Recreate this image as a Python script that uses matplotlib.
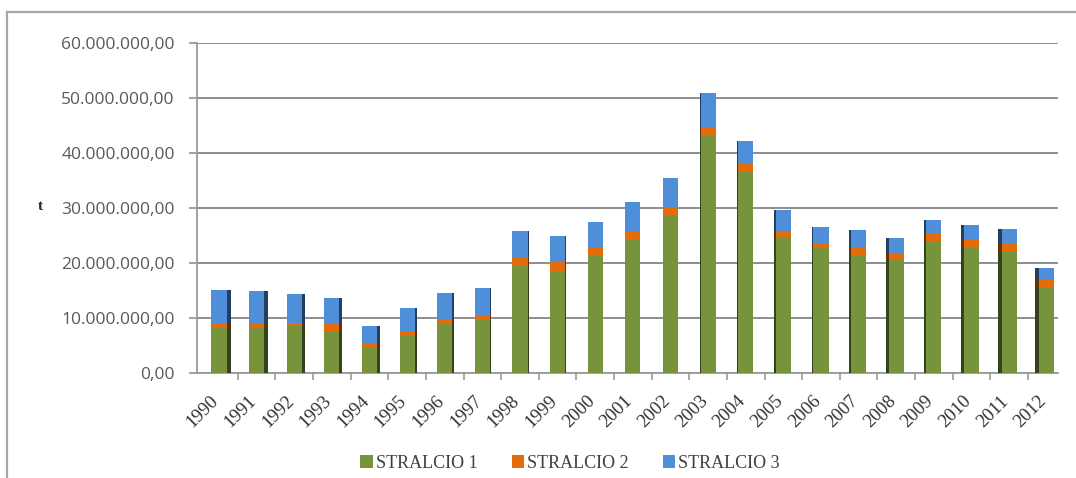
import matplotlib
matplotlib.use("Agg")
import matplotlib.pyplot as plt
from matplotlib.patches import Patch
from matplotlib.lines import Line2D
from matplotlib.ticker import FuncFormatter
import matplotlib.colors as mcolors
import matplotlib.transforms as mtransforms
import numpy as np

# Data (tonnes)
years = [str(y) for y in range(1990, 2013)]
stralcio1 = [8.4e6, 8.4e6, 8.5e6, 7.6e6, 4.7e6, 6.7e6, 8.9e6, 9.7e6, 19.5e6, 18.4e6,
             21.3e6, 24.2e6, 28.7e6, 43.3e6, 36.6e6, 24.6e6, 22.8e6, 21.5e6, 20.5e6,
             23.9e6, 22.7e6, 22.1e6, 15.6e6]
stralcio2 = [0.7e6, 0.7e6, 0.6e6, 1.5e6, 0.6e6, 0.8e6, 0.9e6, 0.8e6, 1.6e6, 1.7e6,
             1.7e6, 1.7e6, 1.5e6, 1.5e6, 1.5e6, 1.1e6, 0.9e6, 1.2e6, 1.1e6,
             1.6e6, 1.6e6, 1.6e6, 1.4e6]
stralcio3 = [6.0e6, 5.9e6, 5.2e6, 4.6e6, 3.2e6, 4.4e6, 4.7e6, 4.9e6, 4.8e6, 4.8e6,
             4.5e6, 5.2e6, 5.3e6, 6.1e6, 4.1e6, 3.9e6, 2.8e6, 3.3e6, 3.0e6,
             2.4e6, 2.7e6, 2.5e6, 2.1e6]
series_names = ["STRALCIO 1", "STRALCIO 2", "STRALCIO 3"]
series_colors = ["#77933C", "#E46C0A", "#4F8ED8"]

y_ticks = [0, 10e6, 20e6, 30e6, 40e6, 50e6, 60e6]

def it_fmt(v, pos):
    s = f"{v:,.2f}"
    return s.replace(",", "X").replace(".", ",").replace("X", ".")

def darker(c, f=0.45):
    r, g, b = mcolors.to_rgb(c)
    return (r * f, g * f, b * f)

fig = plt.figure(figsize=(10.76, 4.78), dpi=100)
ax = fig.add_axes([197 / 1076, 105 / 478, (1058 - 197) / 1076, 330 / 478])

x = np.arange(len(years))
front_w = 0.40
center_idx = 11.2
side_k = 0.0095

bottom = np.zeros(len(years))
for vals, col in zip([stralcio1, stralcio2, stralcio3], series_colors):
    vals = np.array(vals)
    ax.bar(x, vals, width=front_w, bottom=bottom, color=col, zorder=3, linewidth=0)
    # side face giving the depth effect
    for i in range(len(x)):
        d = (center_idx - i) * side_k
        if d > 0:
            ax.bar(x[i] + front_w / 2, vals[i], width=d, bottom=bottom[i], align="edge",
                   color=darker(col), zorder=3, linewidth=0)
        elif d < 0:
            ax.bar(x[i] - front_w / 2, vals[i], width=d, bottom=bottom[i], align="edge",
                   color=darker(col), zorder=3, linewidth=0)
    bottom += vals

ax.set_xlim(-0.585, 22.3)
ax.set_ylim(0, 60e6)
ax.set_yticks(y_ticks)
ax.yaxis.set_major_formatter(FuncFormatter(it_fmt))
ax.grid(axis="y", color="#868686", linewidth=1.3, zorder=1)
ax.set_axisbelow(True)

for s in ["top", "right"]:
    ax.spines[s].set_visible(False)
for s in ["left", "bottom"]:
    ax.spines[s].set_color("#9a9a9a")
    ax.spines[s].set_linewidth(1.3)

ax.tick_params(axis="y", direction="out", length=6, width=1.3, color="#9a9a9a",
               labelcolor="#595959", labelsize=12.5, pad=10)
for lab in ax.get_yticklabels():
    lab.set_fontfamily("Open Sans")

ax.set_xticks(x)
ax.set_xticklabels(years, rotation=45, ha="right", va="top", rotation_mode="anchor",
                   fontfamily="Liberation Serif", fontsize=13.5, color="#333333")
ax.tick_params(axis="x", length=0, pad=14)
shift = mtransforms.ScaledTranslation(-9 / 100, 0, fig.dpi_scale_trans)
for lab in ax.get_xticklabels():
    lab.set_transform(lab.get_transform() + shift)
ax.set_xticks(x[:-1] + 0.5, minor=True)
ax.tick_params(axis="x", which="minor", direction="out", length=5, width=1.2, color="#9a9a9a")

fig.text(40 / 1076, 1 - 207 / 478, "t", fontfamily="Liberation Serif", fontweight="bold",
         fontsize=11, ha="center", va="center", color="#262626")

# outer chart frame (top and left edges)
fig.add_artist(Line2D([7 / 1076, 1.0], [1 - 12 / 478, 1 - 12 / 478], color="#a6a6a6", lw=1.6))
fig.add_artist(Line2D([7 / 1076, 7 / 1076], [1 - 12 / 478, 0], color="#a6a6a6", lw=1.6))

handles = [Patch(facecolor=c, edgecolor="none", label=n) for n, c in zip(series_names, series_colors)]
leg = fig.legend(handles=handles, loc="center", bbox_to_anchor=(570 / 1076, 1 - 463 / 478),
                 ncol=3, frameon=False, handlelength=0.7, handleheight=0.7, handletextpad=0.15,
                 columnspacing=1.9, prop={"family": "Liberation Serif", "size": 13})
for t in leg.get_texts():
    t.set_color("#404040")

fig.savefig("out.png", dpi=100)
